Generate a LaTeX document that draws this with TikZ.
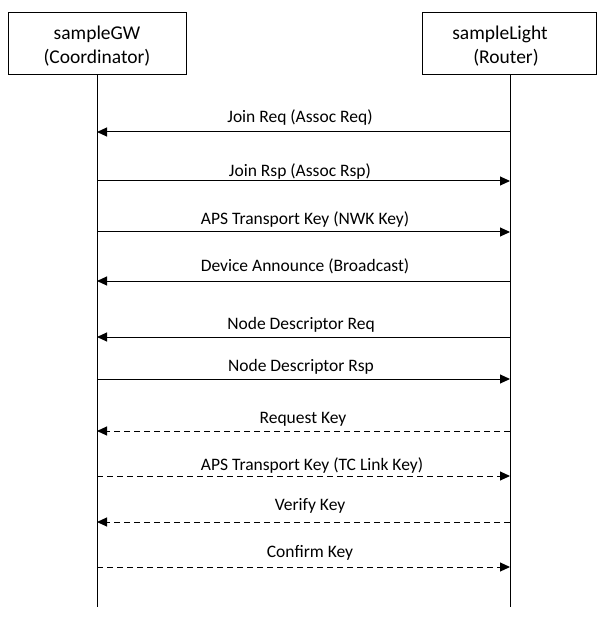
\documentclass[tikz,border=0pt]{standalone}
\usepackage{fontspec}
\setmainfont{Carlito}
\usetikzlibrary{arrows.meta}
\begin{document}
\begin{tikzpicture}[x=1pt,y=-1pt,
  actor/.style={draw,line width=0.9pt,minimum width=178pt,minimum height=62pt,inner sep=0pt},
  atext/.style={align=center,font=\fontsize{19.5}{24}\selectfont,inner sep=0pt},
  life/.style={line width=1pt},
  msg/.style={line width=1pt,-{Triangle[length=10pt,width=9pt]}},
  dmsg/.style={msg,dash pattern=on 6pt off 4pt},
  lbl/.style={font=\fontsize{17.5}{20}\selectfont,inner sep=0pt,text height=0.68em,text depth=0.2em}]
\useasboundingbox (0,0) rectangle (601,617);
\node[actor] (gw) at (97,43) {};
\node[atext] (gwt) at (97,46) {sampleGW\\(Coordinator)};
\node[actor,minimum width=174pt] (lt) at (509,43) {};
\node[atext] (ltt) at (503,46) {sampleLight\hspace*{6pt}\\\hspace*{6pt}(Router)};
\coordinate (gwe) at (97,607);
\coordinate (lte) at (510,607);
\draw[life] (gw.south) -- (gwe);
\draw[life] (lt.south -| lte) -- (lte);
% messages
\foreach \y/\n in {132/a,181/b,232/c,281/d,337/e,379/f,431/g,476/h,522/i,567/j}{
  \coordinate (L\n) at (97,\y);
  \coordinate (R\n) at (510,\y);
}
\draw[msg] (Ra) -- (La);
\draw[msg] (Lb) -- (Rb);
\draw[msg] (Lc) -- (Rc);
\draw[msg] (Rd) -- (Ld);
\draw[msg] (Re) -- (Le);
\draw[msg] (Lf) -- (Rf);
\draw[dmsg] (Rg) -- (Lg);
\draw[dmsg] (Lh) -- (Rh);
\draw[dmsg] (Ri) -- (Li);
\draw[dmsg] (Lj) -- (Rj);
\node[lbl] (ta) at (300,120) {Join Req (Assoc Req)};
\node[lbl] (tb) at (300,174) {Join Rsp (Assoc Rsp)};
\node[lbl] (tc) at (305,222) {APS Transport Key (NWK Key)};
\node[lbl] (td) at (305,269) {Device Announce (Broadcast)};
\node[lbl] (te) at (301,327) {Node Descriptor Req};
\node[lbl] (tf) at (301,369) {Node Descriptor Rsp};
\node[lbl] (tg) at (303,421) {Request Key};
\node[lbl] (th) at (312,468) {APS Transport Key (TC Link Key)};
\node[lbl] (ti) at (310,508) {Verify Key};
\node[lbl] (tj) at (310,555) {Confirm Key};
\end{tikzpicture}
\end{document}
